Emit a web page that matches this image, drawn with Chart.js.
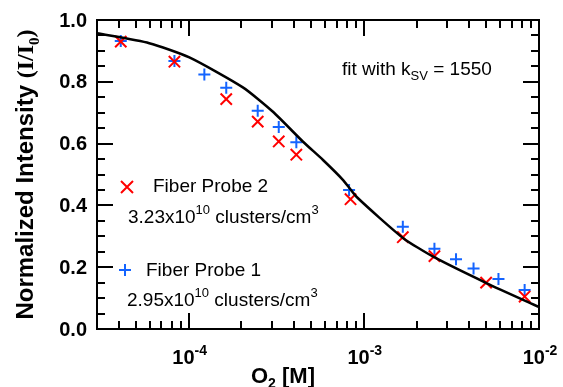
<!DOCTYPE html>
<html lang="en">
<head>
<meta charset="UTF-8">
<title>O2 quenching of fiber probes</title>
<style>
  html, body { margin: 0; padding: 0; background: #fff; }
  #wrap { position: relative; width: 563px; height: 387px; }
  #chart { position: absolute; left: 0; top: 0; }
  #marks { position: absolute; left: 0; top: 0; width: 563px; height: 387px; pointer-events: none; }
  #marks div { position: absolute; background: #000; }
</style>
</head>
<body>
<div id="wrap">
  <canvas id="chart" width="563" height="387"></canvas>
  <div id="marks"></div>
</div>
<script src="https://cdn.jsdelivr.net/npm/chart.js"></script>
<script>
  // Fiber Probe 2 (red x)
  const probe2X = [4.1e-5, 8.3e-5, 1.64e-4, 2.48e-4, 3.27e-4, 4.12e-4, 8.4e-4, 1.67e-3, 2.53e-3, 4.99e-3, 8.28e-3];
  const probe2Y = [0.930, 0.865, 0.744, 0.671, 0.607, 0.564, 0.420, 0.297, 0.236, 0.150, 0.105];
  // Fiber Probe 1 (blue +)
  const probe1X = [4.1e-5, 8.3e-5, 1.23e-4, 1.64e-4, 2.48e-4, 3.27e-4, 4.12e-4, 8.24e-4, 1.67e-3, 2.53e-3, 3.36e-3, 4.23e-3, 5.87e-3, 8.28e-3];
  const probe1Y = [0.932, 0.867, 0.824, 0.781, 0.706, 0.654, 0.604, 0.450, 0.331, 0.260, 0.226, 0.196, 0.162, 0.126];
  // Stern-Volmer fit
  const fitX = [3.0e-5, 5.96e-5, 1.01e-4, 2.04e-4, 3.03e-4, 4.50e-4, 5.85e-4, 7.62e-4, 9.08e-4, 1.68e-3, 2.49e-3, 5.04e-3, 9.95e-3];
  const fitY = [0.957, 0.925, 0.879, 0.782, 0.703, 0.606, 0.547, 0.482, 0.428, 0.294, 0.234, 0.148, 0.072];

  const xRange = [3e-5, 1e-2];
  const yRange = [0, 1];
  const yTicks = [0, 0.2, 0.4, 0.6, 0.8, 1.0];
  const xTicks = [1e-4, 1e-3, 1e-2];
  const xTickExp = ['-4', '-3', '-2'];

  const SANS = '"Liberation Sans", Arial, sans-serif';
  const SERIF = '"Liberation Serif", "Times New Roman", serif';

  const toPts = (xs, ys) => xs.map((x, i) => ({ x: x, y: ys[i] }));

  // draws a run of text pieces (for super/subscripts), align: left | center | right
  function drawRich(ctx, parts, x, y, align) {
    let total = 0;
    parts.forEach(p => { ctx.font = p.font; p.w = ctx.measureText(p.t).width; total += p.w; });
    let cx = align === 'center' ? x - total / 2 : align === 'right' ? x - total : x;
    ctx.textAlign = 'left';
    ctx.textBaseline = 'alphabetic';
    parts.forEach(p => {
      ctx.font = p.font;
      ctx.fillText(p.t, cx, y + (p.dy || 0));
      cx += p.w;
    });
  }

  // list of rectangles for the box and the inward ticks, from the chart scales
  function frameRects(chart) {
    const a = chart.chartArea;
    const xs = chart.scales.x, ys = chart.scales.y;
    const L = Math.round(a.left), R = Math.round(a.right);
    const T = Math.round(a.top), B = Math.round(a.bottom);
    const r = [
      [L - 1, T - 1, R - L + 2, 2], [L - 1, B - 1, R - L + 2, 2],
      [L - 1, T - 1, 2, B - T + 2], [R - 1, T - 1, 2, B - T + 2]
    ];
    for (let k = 0; k <= 20; k++) {
      const py = Math.round(ys.getPixelForValue(k * 0.05));
      const len = k % 4 === 0 ? 16 : 8;
      r.push([L, py - 1, len, 2], [R - len, py - 1, len, 2]);
    }
    for (let d = -5; d <= -2; d++) {
      for (let m = 1; m <= 9; m++) {
        const v = m * Math.pow(10, d);
        if (v < xRange[0] * 1.03 || v > xRange[1] * 1.001) continue;
        const px = Math.round(xs.getPixelForValue(v));
        const len = m === 1 ? 16 : 8;
        r.push([px - 1, B - len, 2, len], [px - 1, T, 2, len]);
      }
    }
    return r;
  }

  const textPlugin = {
    id: 'texts',
    afterDraw(chart) {
      const ctx = chart.ctx;
      const a = chart.chartArea;
      const xs = chart.scales.x, ys = chart.scales.y;
      ctx.save();
      ctx.fillStyle = '#000';
      frameRects(chart).forEach(q => ctx.fillRect(q[0], q[1], q[2], q[3]));

      // y tick labels
      ctx.font = 'bold 20px ' + SANS;
      ctx.textAlign = 'right';
      ctx.textBaseline = 'middle';
      yTicks.forEach(v => ctx.fillText(v.toFixed(1), a.left - 10, ys.getPixelForValue(v) + 1));

      // x tick labels 10^n
      xTicks.forEach((v, i) => {
        drawRich(ctx, [
          { t: '10', font: 'bold 20px ' + SANS },
          { t: xTickExp[i], font: 'bold 14px ' + SANS, dy: -9 }
        ], xs.getPixelForValue(v) + 1, 364, 'center');
      });

      // axis titles
      drawRich(ctx, [
        { t: 'O', font: 'bold 22px ' + SANS },
        { t: '2', font: 'bold 14px ' + SANS, dy: 5 },
        { t: ' [M]', font: 'bold 22px ' + SANS }
      ], 251, 383, 'left');

      ctx.save();
      ctx.translate(33, (a.top + a.bottom) / 2);
      ctx.rotate(-Math.PI / 2);
      drawRich(ctx, [
        { t: 'Normalized Intensity ', font: 'bold 24px ' + SANS },
        { t: '(I/I', font: 'bold 24px ' + SERIF },
        { t: '0', font: 'bold 15px ' + SERIF, dy: 6 },
        { t: ')', font: 'bold 24px ' + SERIF }
      ], 0, 0, 'center');
      ctx.restore();

      // annotation
      drawRich(ctx, [
        { t: 'fit with k', font: '19px ' + SANS },
        { t: 'SV', font: '13px ' + SANS, dy: 5 },
        { t: ' = 1550', font: '19px ' + SANS }
      ], 342, 75, 'left');

      // legend markers
      ctx.lineWidth = 2;
      ctx.strokeStyle = '#ff0000';
      ctx.beginPath();
      ctx.moveTo(121, 181); ctx.lineTo(133, 193);
      ctx.moveTo(133, 181); ctx.lineTo(121, 193);
      ctx.stroke();
      ctx.strokeStyle = '#1464ff';
      ctx.beginPath();
      ctx.moveTo(119, 270); ctx.lineTo(131, 270);
      ctx.moveTo(125, 264); ctx.lineTo(125, 276);
      ctx.stroke();

      ctx.fillStyle = '#000';
      drawRich(ctx, [{ t: 'Fiber Probe 2', font: '19px ' + SANS }], 153, 192, 'left');
      drawRich(ctx, [
        { t: '3.23x10', font: '19px ' + SANS },
        { t: '10', font: '13px ' + SANS, dy: -9 },
        { t: ' clusters/cm', font: '19px ' + SANS },
        { t: '3', font: '13px ' + SANS, dy: -9 }
      ], 128, 223, 'left');
      drawRich(ctx, [{ t: 'Fiber Probe 1', font: '19px ' + SANS }], 146, 276, 'left');
      drawRich(ctx, [
        { t: '2.95x10', font: '19px ' + SANS },
        { t: '10', font: '13px ' + SANS, dy: -9 },
        { t: ' clusters/cm', font: '19px ' + SANS },
        { t: '3', font: '13px ' + SANS, dy: -9 }
      ], 127, 306, 'left');
      ctx.restore();
    }
  };

  const chart = new Chart(document.getElementById('chart').getContext('2d'), {
    type: 'scatter',
    data: {
      datasets: [
        {
          label: 'box',
          type: 'line',
          data: [
            { x: xRange[0], y: yRange[0] }, { x: xRange[1], y: yRange[0] },
            { x: xRange[1], y: yRange[1] }, { x: xRange[0], y: yRange[1] },
            { x: xRange[0], y: yRange[0] }
          ],
          borderColor: '#000',
          borderWidth: 2,
          pointRadius: 0,
          clip: false,
          fill: false
        },
        {
          label: 'fit',
          type: 'line',
          data: toPts(fitX, fitY),
          borderColor: '#000',
          borderWidth: 2.5,
          pointRadius: 0,
          tension: 0.2,
          fill: false
        },
        {
          label: 'Fiber Probe 2',
          data: toPts(probe2X, probe2Y),
          pointStyle: 'crossRot',
          pointRadius: 8,
          borderColor: '#ff0000',
          backgroundColor: '#ff0000',
          pointBorderWidth: 2
        },
        {
          label: 'Fiber Probe 1',
          data: toPts(probe1X, probe1Y),
          pointStyle: 'cross',
          pointRadius: 6,
          borderColor: '#1464ff',
          backgroundColor: '#1464ff',
          pointBorderWidth: 2
        }
      ]
    },
    options: {
      responsive: false,
      animation: false,
      layout: { padding: { left: 97, right: 24, top: 20, bottom: 58 } },
      scales: {
        x: { type: 'logarithmic', min: xRange[0], max: xRange[1], display: false },
        y: { min: yRange[0], max: yRange[1], display: false }
      },
      plugins: { legend: { display: false }, tooltip: { enabled: false } }
    },
    plugins: [textPlugin]
  });

  // the same box and ticks as plain elements over the canvas
  const marks = document.getElementById('marks');
  frameRects(chart).forEach(q => {
    const d = document.createElement('div');
    d.style.left = q[0] + 'px';
    d.style.top = q[1] + 'px';
    d.style.width = q[2] + 'px';
    d.style.height = q[3] + 'px';
    marks.appendChild(d);
  });
</script>
</body>
</html>
